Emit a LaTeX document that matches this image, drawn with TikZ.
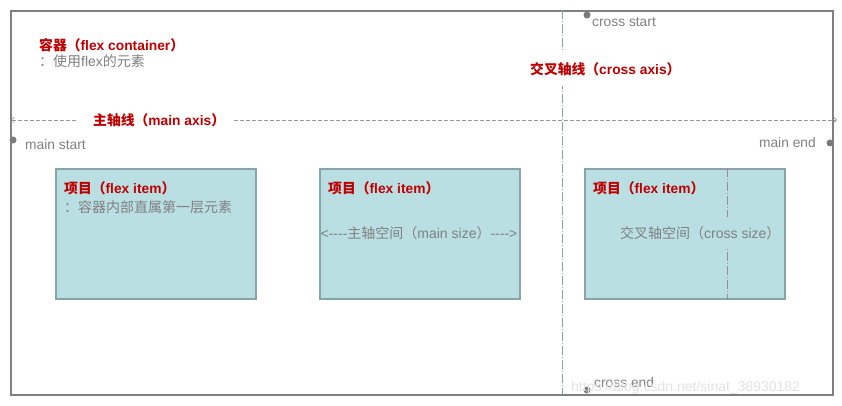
\documentclass[tikz,border=0pt]{standalone}
\usepackage{fontspec}
\setmainfont{Liberation Sans}
\newfontfamily\cjk{Noto Sans CJK SC}
\usetikzlibrary{arrows.meta}
\definecolor{redtxt}{HTML}{C00000}
\definecolor{greytxt}{HTML}{808080}
\definecolor{boxfill}{HTML}{B9DFE3}
\definecolor{boxdraw}{HTML}{88A4A8}
\definecolor{framec}{HTML}{808080}
\definecolor{axisc}{HTML}{9A9A9A}
\definecolor{crossc}{HTML}{8AA2A8}
\definecolor{sizec}{HTML}{A08898}
\definecolor{dotc}{HTML}{7A7A7A}
\definecolor{wmark}{HTML}{E2E2E2}
\begin{document}
\begin{tikzpicture}[x=1pt,y=-1pt,
  title/.style={text=redtxt,font=\bfseries\fontsize{13.8}{16}\selectfont,inner sep=1pt,anchor=west},
  note/.style={text=greytxt,font=\fontsize{14}{16}\selectfont,inner sep=1pt,anchor=west},
  small/.style={text=greytxt,font=\fontsize{13.8}{16}\selectfont,inner sep=1pt},
  itembox/.style={draw=boxdraw,fill=boxfill,line width=1.6pt,minimum width=200pt,minimum height=130pt,anchor=north west,inner sep=0pt},
  dotmark/.style={circle,fill=dotc,inner sep=0pt,minimum size=7pt},
  mainaxis/.style={draw=axisc,line width=0.7pt,dash pattern=on 4pt off 2pt,{Straight Barb[length=3pt,width=6pt]}-{Straight Barb[length=3pt,width=6pt]}},
  crossaxis/.style={draw=crossc,line width=0.8pt,dash pattern=on 9pt off 2pt on 1pt off 2pt},
  sizeaxis/.style={draw=sizec,line width=0.8pt,dash pattern=on 9pt off 2pt on 1pt off 2pt}]
\useasboundingbox (0,0) rectangle (842,406);
% container
\node[draw=framec,line width=1.6pt,minimum width=822pt,minimum height=384pt,anchor=north west,inner sep=0pt] (container) at (10,10) {};
% cross axis
\coordinate (crossS) at (562,10);
\coordinate (crossE) at (562,394);
\draw[crossaxis] (crossS) -- (crossE);
\node[title,fill=white,inner sep=3pt,minimum height=34pt] (crosslabel) at (527,69) {{\cjk 交叉轴线（}cross axis{\cjk ）}};
% main axis
\coordinate (mainS) at (11,120);
\coordinate (mainE) at (837,120);
\draw[mainaxis] (mainS) -- (mainE);
\node[title,fill=white,inner sep=0pt,minimum height=14pt,minimum width=157pt,anchor=west] (mainlabel) at (76,120) {\hspace{9pt}{\cjk 主轴线（}main axis{\cjk ）}};
% container text
\node[title] (ctitle) at (38,45) {{\cjk 容器（}flex container{\cjk ）}};
\node[note] (cnote) at (38,61) {{\cjk ：使用}flex{\cjk 的元素}};
% start / end markers
\node[dotmark] (msdot) at (13,140) {};
\node[small,anchor=west] (mstext) at (24,145) {main start};
\node[dotmark] (medot) at (830,143) {};
\node[small,anchor=east] (metext) at (817,143) {main end};
\node[dotmark] (csdot) at (587,15) {};
\node[small,anchor=west] (cstext) at (591,22) {cross start};
\node[dotmark] (cedot) at (587,390) {};
\node[small,anchor=west] (cetext) at (593,383) {cross end};
% items
\node[itembox] (item1) at (55,168) {};
\node[title] (i1title) at (63,188) {{\cjk 项目（}flex item{\cjk ）}};
\node[note] (i1note) at (63,207) {{\cjk ：容器内部直属第一层元素}};
\node[itembox] (item2) at (319,168) {};
\node[title] (i2title) at (327,188) {{\cjk 项目（}flex item{\cjk ）}};
\node[note,anchor=center] (i2size) at (419,233) {<{-}{-}{-}{-}{\cjk 主轴空间（}main size{\cjk ）}{-}{-}{-}{-}>};
\node[itembox] (item3) at (584,168) {};
\node[title] (i3title) at (592,188) {{\cjk 项目（}flex item{\cjk ）}};
\coordinate (sizeS) at (727,168);
\coordinate (sizeE) at (727,300);
\draw[sizeaxis] (sizeS) -- (sizeE);
\node[note,fill=boxfill,inner sep=2pt,minimum height=32pt] (i3size) at (618,233) {{\cjk 交叉轴空间（}cross size{\cjk ）}};
% watermark
\node[text=wmark,font=\fontsize{14}{16}\selectfont,anchor=west,inner sep=0pt] (wm) at (571,388) {https://blog.csdn.net/sinat\_38930182};
\end{tikzpicture}
\end{document}
